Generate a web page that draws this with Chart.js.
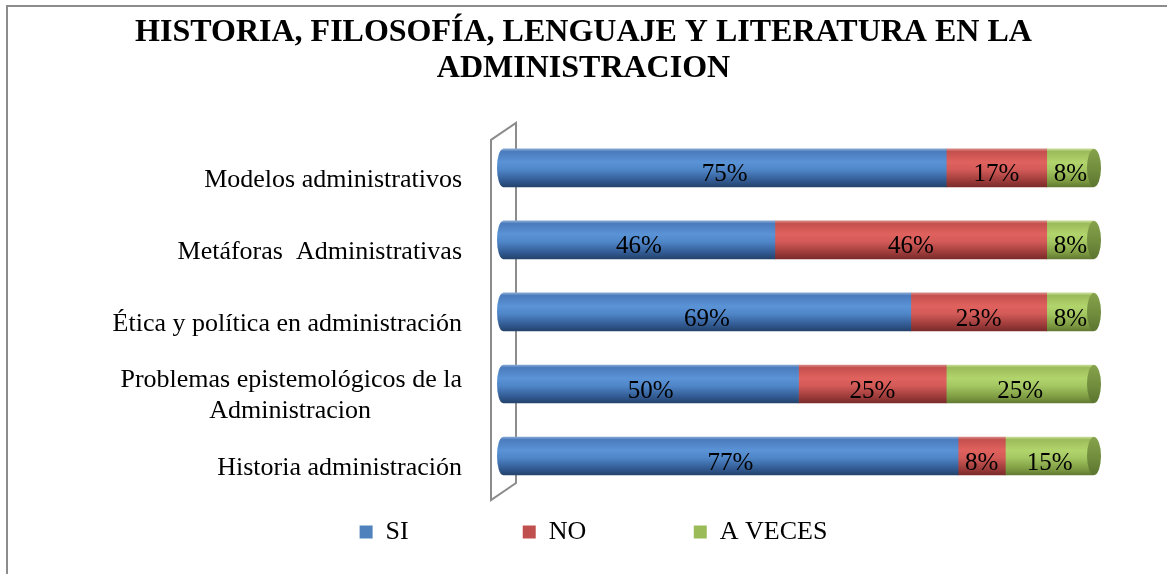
<!DOCTYPE html>
<html>
<head>
<meta charset="utf-8">
<title>Historia, filosofía, lenguaje y literatura en la administración</title>
<script src="https://cdn.jsdelivr.net/npm/chart.js@4/dist/chart.umd.min.js"></script>
<style>
    html, body { margin: 0; padding: 0; background: #ffffff; overflow: hidden; }
    #wrap { position: relative; width: 1167px; height: 574px; }
    #chart { position: absolute; left: 0; top: 0; }
    .frame {
        position: absolute; left: 6px; top: 5px; width: 1300px; height: 700px;
        border-left: 2px solid #8c8c8c; border-top: 2px solid #8c8c8c;
        pointer-events: none;
    }
</style>
</head>
<body>
<div id="wrap">
    <canvas id="chart" width="1167" height="574"></canvas>
    <div class="frame"></div>
</div>
<script>
// Chart data
const categories = [
    'Modelos administrativos',
    'Metáforas  Administrativas',
    'Ética y política en administración',
    ['Problemas epistemológicos de la', 'Administracion' + ' '.repeat(14)],
    'Historia administración'
];
const siValues = [75, 46, 69, 50, 77];
const noValues = [17, 46, 23, 25, 8];
const aVecesValues = [8, 8, 8, 25, 15];
const seriesNames = ['SI', 'NO', 'A VECES'];
const titleLines = ['HISTORIA, FILOSOFÍA, LENGUAJE Y LITERATURA EN LA', 'ADMINISTRACION'];

const SERIF = "'Liberation Serif', 'Times New Roman', serif";
const BAR_H = 38;
const FLAT_COLORS = ['#4f81bd', '#c0504d', '#9bbb59'];
// trailing spaces widen each legend entry (legend padding would also grow it vertically)
const LEGEND_SPACES = [16, 15, 0];
const LEGEND_SHIFT = 10;

// vertical shading so the bars look like cylinders
const BLUE_STOPS = [[0, '#86a8d4'], [0.07, '#4a7bbd'], [0.35, '#5a93d6'], [0.55, '#4f86c8'], [0.85, '#30588f'], [1, '#24436b']];
const RED_STOPS = [[0, '#d88a87'], [0.07, '#c4504d'], [0.35, '#e0625e'], [0.55, '#d25a57'], [0.85, '#9a3a39'], [1, '#7a2c2b']];
const GREEN_STOPS = [[0, '#c8dd98'], [0.07, '#9bbb59'], [0.35, '#b2d46c'], [0.55, '#a5c762'], [0.85, '#7d9a41'], [1, '#627a33']];

function makeGradient(ctx, yc, stops) {
    const g = ctx.createLinearGradient(0, yc - BAR_H / 2, 0, yc + BAR_H / 2);
    stops.forEach(s => g.addColorStop(s[0], s[1]));
    return g;
}

function cylinderFill(stops) {
    return function(context) {
        const chart = context.chart;
        if (!chart.chartArea || context.type !== 'data') return stops[2][1];
        const yc = chart.scales.y.getPixelForValue(context.dataIndex);
        return makeGradient(chart.ctx, yc, stops);
    };
}

/**
 * Draws the 3D side wall, the rounded bar ends and the percent labels
 */
const cylinderPlugin = {
    id: 'cylinderPlugin',
    afterLayout: function(chart) {
        // nudge the centred legend a little to the right, like the original
        if (chart.legend) {
            chart.legend.left += LEGEND_SHIFT;
            chart.legend.right += LEGEND_SHIFT;
        }
    },
    beforeDatasetsDraw: function(chart) {
        const ctx = chart.ctx;
        const area = chart.chartArea;
        const xScale = chart.scales.x;
        const yScale = chart.scales.y;

        // gray side wall behind the bars
        ctx.save();
        ctx.strokeStyle = '#8c8c8c';
        ctx.lineWidth = 2;
        ctx.beginPath();
        ctx.moveTo(area.left - 12, area.top + 8);
        ctx.lineTo(area.left + 13, area.top - 9);
        ctx.lineTo(area.left + 13, area.bottom - 9);
        ctx.lineTo(area.left - 12, area.bottom + 8);
        ctx.closePath();
        ctx.stroke();
        ctx.restore();

        // rounded left end of each bar
        const x0 = xScale.getPixelForValue(0);
        categories.forEach((c, i) => {
            const yc = yScale.getPixelForValue(i);
            ctx.save();
            ctx.fillStyle = makeGradient(ctx, yc, BLUE_STOPS);
            ctx.beginPath();
            ctx.ellipse(x0, yc, 6, BAR_H / 2, 0, 0, Math.PI * 2);
            ctx.fill();
            ctx.restore();
        });
    },
    afterDatasetsDraw: function(chart) {
        const ctx = chart.ctx;

        // dark green cap on the right end
        const lastMeta = chart.getDatasetMeta(chart.data.datasets.length - 1);
        lastMeta.data.forEach(el => {
            ctx.save();
            const g = ctx.createLinearGradient(0, el.y - BAR_H / 2, 0, el.y + BAR_H / 2);
            g.addColorStop(0, '#86a24c');
            g.addColorStop(0.5, '#738f3e');
            g.addColorStop(1, '#5c7530');
            ctx.fillStyle = g;
            ctx.beginPath();
            ctx.ellipse(el.x, el.y, 7, BAR_H / 2, 0, 0, Math.PI * 2);
            ctx.fill();
            ctx.restore();
        });

        // percent labels
        ctx.save();
        ctx.font = '25px ' + SERIF;
        ctx.fillStyle = '#000000';
        ctx.textAlign = 'center';
        ctx.textBaseline = 'middle';
        chart.data.datasets.forEach((dataset, di) => {
            const meta = chart.getDatasetMeta(di);
            meta.data.forEach((el, i) => {
                const cx = (el.x + el.base) / 2;
                ctx.fillText(dataset.data[i] + '%', cx, el.y + 7);
            });
        });
        ctx.restore();
    }
};

const ctx = document.getElementById('chart').getContext('2d');
new Chart(ctx, {
    type: 'bar',
    data: {
        labels: categories,
        datasets: [
            { label: seriesNames[0], data: siValues, backgroundColor: cylinderFill(BLUE_STOPS) },
            { label: seriesNames[1], data: noValues, backgroundColor: cylinderFill(RED_STOPS) },
            { label: seriesNames[2], data: aVecesValues, backgroundColor: cylinderFill(GREEN_STOPS) }
        ]
    },
    plugins: [cylinderPlugin],
    options: {
        indexAxis: 'y',
        responsive: false,
        animation: false,
        devicePixelRatio: 1,
        barThickness: BAR_H,
        layout: { padding: { left: 0, right: 0, top: 0, bottom: 19 } },
        plugins: {
            title: {
                display: true,
                text: titleLines,
                color: '#000000',
                font: { family: SERIF, size: 32, weight: 'bold', lineHeight: 1.1 },
                padding: { top: 15.5, bottom: 46 }
            },
            legend: {
                display: true,
                position: 'bottom',
                labels: {
                    color: '#000000',
                    font: { family: SERIF, size: 26 },
                    boxWidth: 13,
                    boxHeight: 13,
                    padding: 10,
                    generateLabels: function(chart) {
                        return chart.data.datasets.map((ds, i) => ({
                            text: ds.label + ' '.repeat(LEGEND_SPACES[i]),
                            fillStyle: FLAT_COLORS[i],
                            strokeStyle: FLAT_COLORS[i],
                            lineWidth: 0,
                            hidden: false,
                            datasetIndex: i
                        }));
                    }
                }
            },
            tooltip: { enabled: false }
        },
        scales: {
            x: {
                type: 'linear',
                stacked: true,
                min: 0,
                max: 100,
                ticks: { display: false },
                grid: { display: false },
                border: { display: false },
                afterFit: function(scale) { scale.height = 17; }
            },
            y: {
                stacked: true,
                ticks: {
                    color: '#000000',
                    font: { family: SERIF, size: 26 },
                    padding: 33,
                    labelOffset: 12,
                    autoSkip: false
                },
                grid: { display: false },
                border: { display: false },
                afterFit: function(scale) { scale.width = 503; }
            },
            yRight: {
                type: 'linear',
                position: 'right',
                ticks: { display: false },
                grid: { display: false },
                border: { display: false },
                afterFit: function(scale) { scale.width = 73; }
            }
        }
    }
});
</script>
</body>
</html>
